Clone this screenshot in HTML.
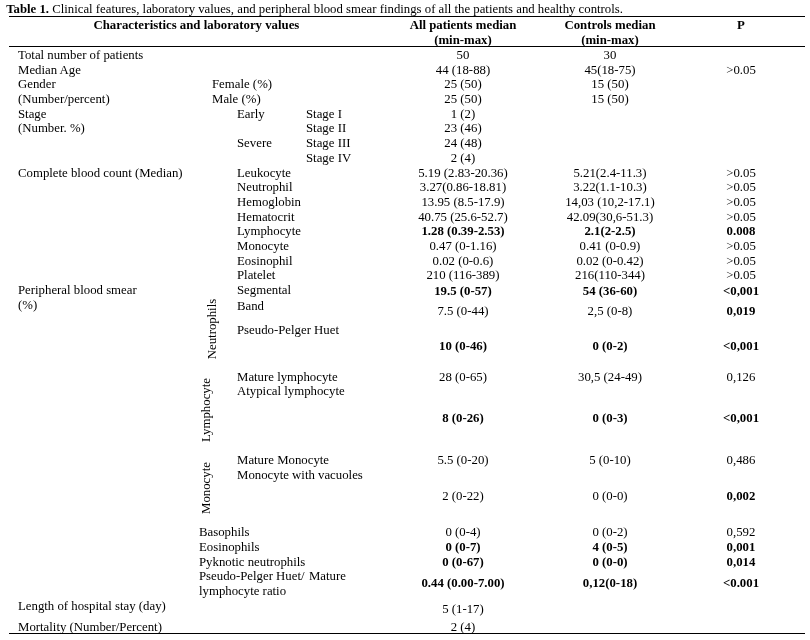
<!DOCTYPE html>
<html><head><meta charset="utf-8"><title>Table 1</title>
<style>
html,body{margin:0;padding:0;background:#fff;}
body{width:810px;height:640px;position:relative;overflow:hidden;font-family:"Liberation Serif",serif;font-size:12.8px;color:#000;}
.t{position:absolute;white-space:nowrap;line-height:14px;}
.c{position:absolute;white-space:nowrap;line-height:14px;width:200px;text-align:center;}
.v{position:absolute;white-space:nowrap;line-height:14px;width:100px;height:14px;text-align:center;transform:rotate(-90deg);}
.r{position:absolute;background:#000;height:1px;}
b{font-weight:bold;}
#w{position:absolute;left:0;top:0;width:810px;height:640px;will-change:transform;}
</style></head><body><div id="w">

<div class="r" style="left:9px;top:16px;width:796px"></div>
<div class="r" style="left:9px;top:46px;width:796px"></div>
<div class="r" style="left:9px;top:633px;width:796px"></div>
<div class="t" style="left:6.2px;top:2px;font-size:12.78px"><b>Table 1.</b> Clinical features, laboratory values, and peripheral blood smear findings of all the patients and healthy controls.</div>
<div class="c" style="left:93.5px;top:18px;"><b>Characteristics and laboratory values</b></div>
<div class="c" style="left:363px;top:18px;"><b>All patients median</b></div>
<div class="c" style="left:363px;top:33px;"><b>(min-max)</b></div>
<div class="c" style="left:510px;top:18px;"><b>Controls median</b></div>
<div class="c" style="left:510px;top:33px;"><b>(min-max)</b></div>
<div class="c" style="left:641px;top:18px;"><b>P</b></div>
<div class="t" style="left:18px;top:48px;">Total number of patients</div>
<div class="c" style="left:363px;top:48px;">50</div>
<div class="c" style="left:510px;top:48px;">30</div>
<div class="t" style="left:18px;top:63px;">Median Age</div>
<div class="c" style="left:363px;top:63px;">44 (18-88)</div>
<div class="c" style="left:510px;top:63px;">45(18-75)</div>
<div class="c" style="left:641px;top:63px;">&gt;0.05</div>
<div class="t" style="left:18px;top:77px;">Gender</div>
<div class="t" style="left:212px;top:77px;">Female (%)</div>
<div class="c" style="left:363px;top:77px;">25 (50)</div>
<div class="c" style="left:510px;top:77px;">15 (50)</div>
<div class="t" style="left:18px;top:92px;">(Number/percent)</div>
<div class="t" style="left:212px;top:92px;">Male (%)</div>
<div class="c" style="left:363px;top:92px;">25 (50)</div>
<div class="c" style="left:510px;top:92px;">15 (50)</div>
<div class="t" style="left:18px;top:107px;">Stage</div>
<div class="t" style="left:237px;top:107px;">Early</div>
<div class="t" style="left:306px;top:107px;">Stage I</div>
<div class="c" style="left:363px;top:107px;">1 (2)</div>
<div class="t" style="left:18px;top:121px;">(Number. %)</div>
<div class="t" style="left:306px;top:121px;">Stage II</div>
<div class="c" style="left:363px;top:121px;">23 (46)</div>
<div class="t" style="left:237px;top:136px;">Severe</div>
<div class="t" style="left:306px;top:136px;">Stage III</div>
<div class="c" style="left:363px;top:136px;">24 (48)</div>
<div class="t" style="left:306px;top:150.5px;">Stage IV</div>
<div class="c" style="left:363px;top:150.5px;">2 (4)</div>
<div class="t" style="left:18px;top:166px;">Complete blood count (Median)</div>
<div class="t" style="left:237px;top:166px;">Leukocyte</div>
<div class="c" style="left:363px;top:166px;">5.19 (2.83-20.36)</div>
<div class="c" style="left:510px;top:166px;">5.21(2.4-11.3)</div>
<div class="c" style="left:641px;top:166px;">&gt;0.05</div>
<div class="t" style="left:237px;top:180px;">Neutrophil</div>
<div class="c" style="left:363px;top:180px;">3.27(0.86-18.81)</div>
<div class="c" style="left:510px;top:180px;">3.22(1.1-10.3)</div>
<div class="c" style="left:641px;top:180px;">&gt;0.05</div>
<div class="t" style="left:237px;top:195px;">Hemoglobin</div>
<div class="c" style="left:363px;top:195px;">13.95 (8.5-17.9)</div>
<div class="c" style="left:510px;top:195px;">14,03 (10,2-17.1)</div>
<div class="c" style="left:641px;top:195px;">&gt;0.05</div>
<div class="t" style="left:237px;top:209.6px;">Hematocrit</div>
<div class="c" style="left:363px;top:209.6px;">40.75 (25.6-52.7)</div>
<div class="c" style="left:510px;top:209.6px;">42.09(30,6-51.3)</div>
<div class="c" style="left:641px;top:209.6px;">&gt;0.05</div>
<div class="t" style="left:237px;top:224px;">Lymphocyte</div>
<div class="c" style="left:363px;top:224px;"><b>1.28 (0.39-2.53)</b></div>
<div class="c" style="left:510px;top:224px;"><b>2.1(2-2.5)</b></div>
<div class="c" style="left:641px;top:224px;"><b>0.008</b></div>
<div class="t" style="left:237px;top:238.8px;">Monocyte</div>
<div class="c" style="left:363px;top:238.8px;">0.47 (0-1.16)</div>
<div class="c" style="left:510px;top:238.8px;">0.41 (0-0.9)</div>
<div class="c" style="left:641px;top:238.8px;">&gt;0.05</div>
<div class="t" style="left:237px;top:253.8px;">Eosinophil</div>
<div class="c" style="left:363px;top:253.8px;">0.02 (0-0.6)</div>
<div class="c" style="left:510px;top:253.8px;">0.02 (0-0.42)</div>
<div class="c" style="left:641px;top:253.8px;">&gt;0.05</div>
<div class="t" style="left:237px;top:267.8px;">Platelet</div>
<div class="c" style="left:363px;top:267.8px;">210 (116-389)</div>
<div class="c" style="left:510px;top:267.8px;">216(110-344)</div>
<div class="c" style="left:641px;top:267.8px;">&gt;0.05</div>
<div class="t" style="left:18px;top:282.7px;">Peripheral blood smear</div>
<div class="t" style="left:237px;top:282.7px;">Segmental</div>
<div class="c" style="left:363px;top:283.6px;"><b>19.5 (0-57)</b></div>
<div class="c" style="left:510px;top:283.6px;"><b>54 (36-60)</b></div>
<div class="c" style="left:641px;top:283.6px;"><b>&lt;0,001</b></div>
<div class="t" style="left:18px;top:298.1px;">(%)</div>
<div class="t" style="left:237px;top:298.8px;">Band</div>
<div class="c" style="left:363px;top:304px;">7.5 (0-44)</div>
<div class="c" style="left:510px;top:304px;">2,5 (0-8)</div>
<div class="c" style="left:641px;top:304px;"><b>0,019</b></div>
<div class="t" style="left:237px;top:323px;">Pseudo-Pelger Huet</div>
<div class="c" style="left:363px;top:339px;"><b>10 (0-46)</b></div>
<div class="c" style="left:510px;top:339px;"><b>0 (0-2)</b></div>
<div class="c" style="left:641px;top:339px;"><b>&lt;0,001</b></div>
<div class="t" style="left:237px;top:370px;">Mature lymphocyte</div>
<div class="c" style="left:363px;top:370px;">28 (0-65)</div>
<div class="c" style="left:510px;top:370px;">30,5 (24-49)</div>
<div class="c" style="left:641px;top:370px;">0,126</div>
<div class="t" style="left:237px;top:384px;">Atypical lymphocyte</div>
<div class="c" style="left:363px;top:411px;"><b>8 (0-26)</b></div>
<div class="c" style="left:510px;top:411px;"><b>0 (0-3)</b></div>
<div class="c" style="left:641px;top:411px;"><b>&lt;0,001</b></div>
<div class="t" style="left:237px;top:453px;">Mature Monocyte</div>
<div class="c" style="left:363px;top:453px;">5.5 (0-20)</div>
<div class="c" style="left:510px;top:453px;">5 (0-10)</div>
<div class="c" style="left:641px;top:453px;">0,486</div>
<div class="t" style="left:237px;top:468px;">Monocyte with vacuoles</div>
<div class="c" style="left:363px;top:489px;">2 (0-22)</div>
<div class="c" style="left:510px;top:489px;">0 (0-0)</div>
<div class="c" style="left:641px;top:489px;"><b>0,002</b></div>
<div class="c" style="left:363px;top:525px;">0 (0-4)</div>
<div class="c" style="left:510px;top:525px;">0 (0-2)</div>
<div class="c" style="left:641px;top:525px;">0,592</div>
<div class="t" style="left:199px;top:525px;">Basophils</div>
<div class="c" style="left:363px;top:540px;"><b>0 (0-7)</b></div>
<div class="c" style="left:510px;top:540px;"><b>4 (0-5)</b></div>
<div class="c" style="left:641px;top:540px;"><b>0,001</b></div>
<div class="t" style="left:199px;top:540px;">Eosinophils</div>
<div class="c" style="left:363px;top:555px;"><b>0 (0-67)</b></div>
<div class="c" style="left:510px;top:555px;"><b>0 (0-0)</b></div>
<div class="c" style="left:641px;top:555px;"><b>0,014</b></div>
<div class="t" style="left:199px;top:555px;">Pyknotic neutrophils</div>
<div class="c" style="left:363px;top:575.7px;"><b>0.44 (0.00-7.00)</b></div>
<div class="c" style="left:510px;top:575.7px;"><b>0,12(0-18)</b></div>
<div class="c" style="left:641px;top:575.7px;"><b>&lt;0.001</b></div>
<div class="t" style="left:199px;top:569px;">Pseudo-Pelger Huet/ <span style="margin-left:1.2px">Mature</span></div>
<div class="t" style="left:199px;top:584px;">lymphocyte ratio</div>
<div class="t" style="left:18px;top:599px;">Length of hospital stay (day)</div>
<div class="c" style="left:363px;top:601.7px;">5 (1-17)</div>
<div class="t" style="left:18px;top:620px;">Mortality (Number/Percent)</div>
<div class="c" style="left:363px;top:620px;">2 (4)</div>
<div class="v" style="left:162.25px;top:321.8px">Neutrophils</div>
<div class="v" style="left:156.3px;top:402.8px">Lymphocyte</div>
<div class="v" style="left:156.2px;top:481.2px">Monocyte</div>
</div></body></html>
